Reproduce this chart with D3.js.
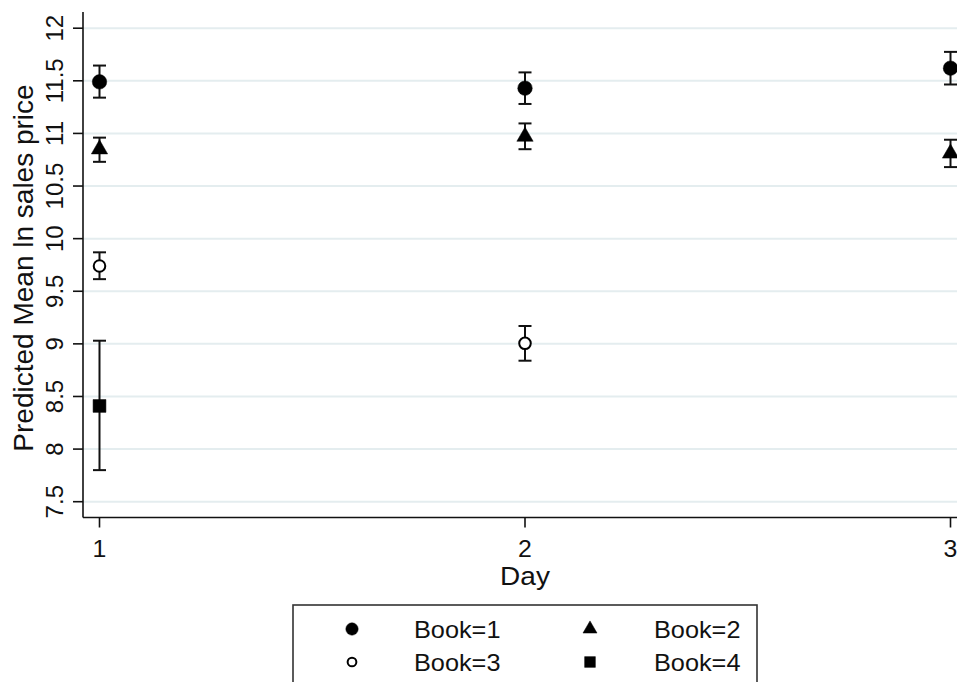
<!DOCTYPE html>
<html>
<head>
<meta charset="utf-8">
<script src="https://cdn.jsdelivr.net/npm/d3@7"></script>
<style>
  html, body { margin: 0; padding: 0; background: #fff; }
  svg { display: block; font-family: "Liberation Sans", Arial, Helvetica, sans-serif; }
</style>
</head>
<body>
<svg id="chart" width="957" height="682"></svg>
<script>
// Predicted mean ln sales price by day, with 95% CIs, for each book
const days = [1, 2, 3];
const yTicks = [7.5, 8, 8.5, 9, 9.5, 10, 10.5, 11, 11.5, 12];
const yTickLabels = ["7.5", "8", "8.5", "9", "9.5", "10", "10.5", "11", "11.5", "12"];
const xTickLabels = ["1", "2", "3"];

const bookNames = ["Book=1", "Book=2", "Book=3", "Book=4"];
const book1Mean = [11.49, 11.43, 11.62];
const book1Lo   = [11.34, 11.28, 11.465];
const book1Hi   = [11.645, 11.58, 11.775];
const book2Mean = [10.85, 10.97, 10.81];
const book2Lo   = [10.73, 10.85, 10.68];
const book2Hi   = [10.96, 11.095, 10.94];
const book3Mean = [9.74, 9.005, null];
const book3Lo   = [9.615, 8.84, null];
const book3Hi   = [9.87, 9.17, null];
const book4Mean = [8.41, null, null];
const book4Lo   = [7.80, null, null];
const book4Hi   = [9.03, null, null];

const svg = d3.select("#chart");
const W = 957, H = 682;
const ink = "#111";

const plotLeft = 83, plotTop = 12, plotBottom = 517.5;
const x = d3.scaleLinear().domain([1, 3]).range([99.5, 950.5]);
const y = d3.scaleLinear().domain([7.5, 12]).range([501.7, 28.2]);

// gridlines
svg.append("g").selectAll("line").data(yTicks).join("line")
  .attr("x1", plotLeft).attr("x2", W)
  .attr("y1", d => y(d)).attr("y2", d => y(d))
  .attr("stroke", "#e4edef").attr("stroke-width", 2);

// y axis
const yAxis = svg.append("g").attr("transform", `translate(${plotLeft},0)`);
yAxis.append("line").attr("x1", 0).attr("x2", 0).attr("y1", plotTop).attr("y2", plotBottom)
  .attr("stroke", ink).attr("stroke-width", 1.6);
yAxis.selectAll("line.tick").data(yTicks).join("line").attr("class", "tick")
  .attr("x1", -10).attr("x2", 0).attr("y1", d => y(d)).attr("y2", d => y(d))
  .attr("stroke", ink).attr("stroke-width", 1.6);
yAxis.selectAll("text").data(yTicks).join("text")
  .attr("transform", d => `translate(-20,${y(d)}) rotate(-90)`)
  .attr("text-anchor", "middle")
  .attr("font-size", 24).attr("fill", ink)
  .text((d, i) => yTickLabels[i]);

// x axis
const xAxis = svg.append("g").attr("transform", `translate(0,${plotBottom})`);
xAxis.append("line").attr("x1", plotLeft).attr("x2", W).attr("y1", 0).attr("y2", 0)
  .attr("stroke", ink).attr("stroke-width", 1.6);
xAxis.selectAll("line.tick").data(days).join("line").attr("class", "tick")
  .attr("x1", d => x(d)).attr("x2", d => x(d)).attr("y1", 0).attr("y2", 10)
  .attr("stroke", ink).attr("stroke-width", 1.6);
xAxis.selectAll("text").data(days).join("text")
  .attr("transform", d => `translate(${x(d)},39) scale(1.08,1)`)
  .attr("text-anchor", "middle").attr("font-size", 23).attr("fill", ink)
  .text((d, i) => xTickLabels[i]);

// axis titles
svg.append("text").attr("transform", `translate(${x(2)},585) scale(1.12,1)`)
  .attr("text-anchor", "middle").attr("font-size", 25).attr("fill", ink).text("Day");
svg.append("text").attr("transform", `translate(33,268) rotate(-90)`)
  .attr("text-anchor", "middle").attr("font-size", 28).attr("fill", ink)
  .text("Predicted Mean ln sales price");

// series
const series = [
  { mean: book1Mean, lo: book1Lo, hi: book1Hi, symbol: d3.symbolCircle, size: 165, fill: "#000" },
  { mean: book2Mean, lo: book2Lo, hi: book2Hi, symbol: d3.symbolTriangle, size: 115, fill: "#000" },
  { mean: book3Mean, lo: book3Lo, hi: book3Hi, symbol: d3.symbolCircle, size: 105, fill: "#fff" },
  { mean: book4Mean, lo: book4Lo, hi: book4Hi, symbol: d3.symbolSquare, size: 165, fill: "#000" }
];

const cap = 6.5;
series.forEach(s => {
  const pts = days.map((d, i) => ({ day: d, m: s.mean[i], lo: s.lo[i], hi: s.hi[i] }))
    .filter(p => p.m != null);
  const g = svg.append("g");
  const eb = g.selectAll("g.eb").data(pts).join("g").attr("class", "eb")
    .attr("stroke", ink).attr("stroke-width", 2).attr("fill", "none");
  eb.append("line").attr("x1", p => x(p.day)).attr("x2", p => x(p.day))
    .attr("y1", p => y(p.lo)).attr("y2", p => y(p.hi));
  eb.append("line").attr("x1", p => x(p.day) - cap).attr("x2", p => x(p.day) + cap)
    .attr("y1", p => y(p.lo)).attr("y2", p => y(p.lo));
  eb.append("line").attr("x1", p => x(p.day) - cap).attr("x2", p => x(p.day) + cap)
    .attr("y1", p => y(p.hi)).attr("y2", p => y(p.hi));
  g.selectAll("path").data(pts).join("path")
    .attr("d", d3.symbol().type(s.symbol).size(s.size))
    .attr("transform", p => `translate(${x(p.day)},${y(p.m)})`)
    .attr("fill", s.fill).attr("stroke", "#000").attr("stroke-width", s.fill === "#fff" ? 2 : 0.5);
});

// legend
const legend = svg.append("g");
legend.append("rect").attr("x", 293).attr("y", 605).attr("width", 464).attr("height", 100)
  .attr("fill", "#fff").attr("stroke", "#333").attr("stroke-width", 1.6);
const legPos = [
  { sx: 352, tx: 414, cy: 629 },
  { sx: 590, tx: 654, cy: 629 },
  { sx: 352, tx: 414, cy: 662 },
  { sx: 590, tx: 654, cy: 662 }
];
const legSize = [120, 85, 60, 115];
series.forEach((s, i) => {
  const p = legPos[i];
  legend.append("path")
    .attr("d", d3.symbol().type(s.symbol).size(legSize[i]))
    .attr("transform", `translate(${p.sx},${p.cy})`)
    .attr("fill", s.fill).attr("stroke", "#000").attr("stroke-width", s.fill === "#fff" ? 2 : 0.5);
  legend.append("text").attr("transform", `translate(${p.tx},${p.cy + 8.5}) scale(1.1,1)`)
    .attr("font-size", 23).attr("fill", ink).text(bookNames[i]);
});
</script>
</body>
</html>
